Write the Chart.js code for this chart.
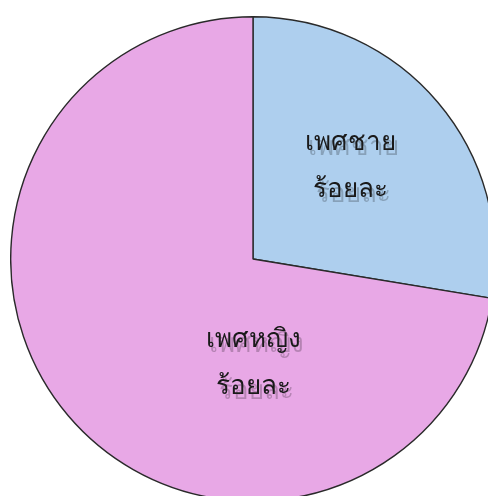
<!DOCTYPE html>
<html>
<head>
<meta charset="utf-8">
<script src="https://cdn.jsdelivr.net/npm/chart.js@4/dist/chart.umd.min.js"></script>
<style>
  html, body { margin: 0; padding: 0; background: #fff; overflow: hidden; }
  body { width: 488px; height: 496px; position: relative; }
  #genderChart { position: absolute; left: 10px; top: 16px; }
</style>
</head>
<body>
<canvas id="genderChart" width="486" height="486"></canvas>
<script>
// ======================================
// Data
// ======================================

const genderLabels = ["เพศชาย", "เพศหญิง"];
const genderPercent = [27.6, 72.4];
const sliceColors = ["#aecfee", "#e8a8e6"];

// label placement per slice: [angle in degrees from 3 o'clock, fraction of radius]
const labelPlacement = [[-43.5, 0.555], [89.5, 0.43]];

// ======================================
// Slice Labels
// ======================================

const sliceLabelPlugin = {
  id: "sliceLabels",
  afterDatasetsDraw(chart) {
    const ctx = chart.ctx;
    const arcs = chart.getDatasetMeta(0).data;

    arcs.forEach((arc, i) => {
      const { x, y, outerRadius } = arc.getProps(["x", "y", "outerRadius"], true);
      const [deg, frac] = labelPlacement[i];
      const a = (deg * Math.PI) / 180;
      const cx = x + Math.cos(a) * outerRadius * frac;
      const cy = y + Math.sin(a) * outerRadius * frac;
      const lines = [genderLabels[i], "ร้อยละ"];

      ctx.save();
      ctx.font = '300 26px "Noto Sans", sans-serif';
      ctx.textAlign = "center";
      ctx.textBaseline = "middle";
      lines.forEach((line, k) => {
        const ly = cy + (k - 0.5) * 47;
        ctx.fillStyle = "rgba(0,0,0,0.22)";
        ctx.fillText(line, cx + 3, ly + 5);
        ctx.fillStyle = "#1a1a1a";
        ctx.fillText(line, cx, ly);
      });
      ctx.restore();
    });
  },
};

// ======================================
// Pie
// ======================================

new Chart(document.getElementById("genderChart"), {
  type: "pie",
  data: {
    labels: genderLabels,
    datasets: [
      {
        data: genderPercent,
        backgroundColor: sliceColors,
        borderColor: "#2a2a2a",
        borderWidth: 1.4,
      },
    ],
  },
  options: {
    responsive: false,
    animation: false,
    layout: { padding: 0 },
    plugins: {
      legend: { display: false },
      tooltip: { enabled: false },
    },
  },
  plugins: [sliceLabelPlugin],
});
</script>
</body>
</html>
